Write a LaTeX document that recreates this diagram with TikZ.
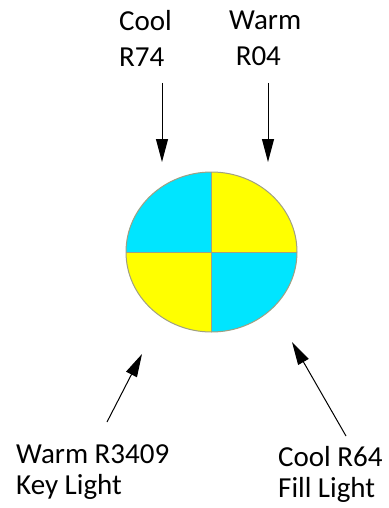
\documentclass[tikz,border=0pt]{standalone}
\usepackage{fontspec}
\setmainfont{Carlito}
\usetikzlibrary{arrows.meta,shapes.geometric}

\definecolor{gelcyan}{RGB}{0,229,255}
\definecolor{gelyellow}{RGB}{255,255,0}
\definecolor{rimgray}{RGB}{160,160,130}

\tikzstyle{gel text}=[align=left,inner sep=0pt,anchor=north west,font=\fontsize{29}{36}\selectfont]
\tikzstyle{low text}=[gel text,font=\fontsize{29}{31.5}\selectfont]
\tikzstyle{light arrow}=[draw,line width=1pt,-{Triangle[length=23pt,width=12pt]}]
\tikzstyle{disc}=[ellipse,draw=rimgray,line width=1pt,minimum width=171pt,minimum height=160pt,inner sep=0pt]

\begin{document}
\begin{tikzpicture}[x=1pt,y=-1pt]
	\useasboundingbox (0,0) rectangle (388,508);
	% the gel disc
	\node[disc,path picture={
		\fill[gelcyan] (gel.center) rectangle ++(-100,-100);
		\fill[gelyellow] (gel.center) rectangle ++(100,-100);
		\fill[gelyellow] (gel.center) rectangle ++(-100,100);
		\fill[gelcyan] (gel.center) rectangle ++(100,100);
		\draw[rimgray,line width=1pt] (gel.north) -- (gel.south);
		\draw[rimgray,line width=1pt] (gel.west) -- (gel.east);
	}] (gel) at (211.5,252) {};
	% labels
	\node[gel text] (coolTop) at (119,10) {Cool\\R74};
	\node[gel text] (warmTop) at (229,11) {Warm\\~R04};
	\node[low text] (keyLight) at (16,444) {Warm R3409\\Key Light};
	\node[low text] (fillLight) at (278,446) {Cool R64\\Fill Light};
	% arrow ends
	\coordinate (coolStart) at (162,83);
	\coordinate (coolTip) at (162,162);
	\coordinate (warmStart) at (268,83);
	\coordinate (warmTip) at (268,162);
	\coordinate (keyStart) at (107,422);
	\coordinate (keyTip) at (142,354);
	\coordinate (fillStart) at (346,436);
	\coordinate (fillTip) at (292,342);
	\foreach \source/ \dest in {coolStart/coolTip,warmStart/warmTip,keyStart/keyTip,fillStart/fillTip}
		\path[light arrow] (\source) to (\dest);
\end{tikzpicture}
\end{document}
